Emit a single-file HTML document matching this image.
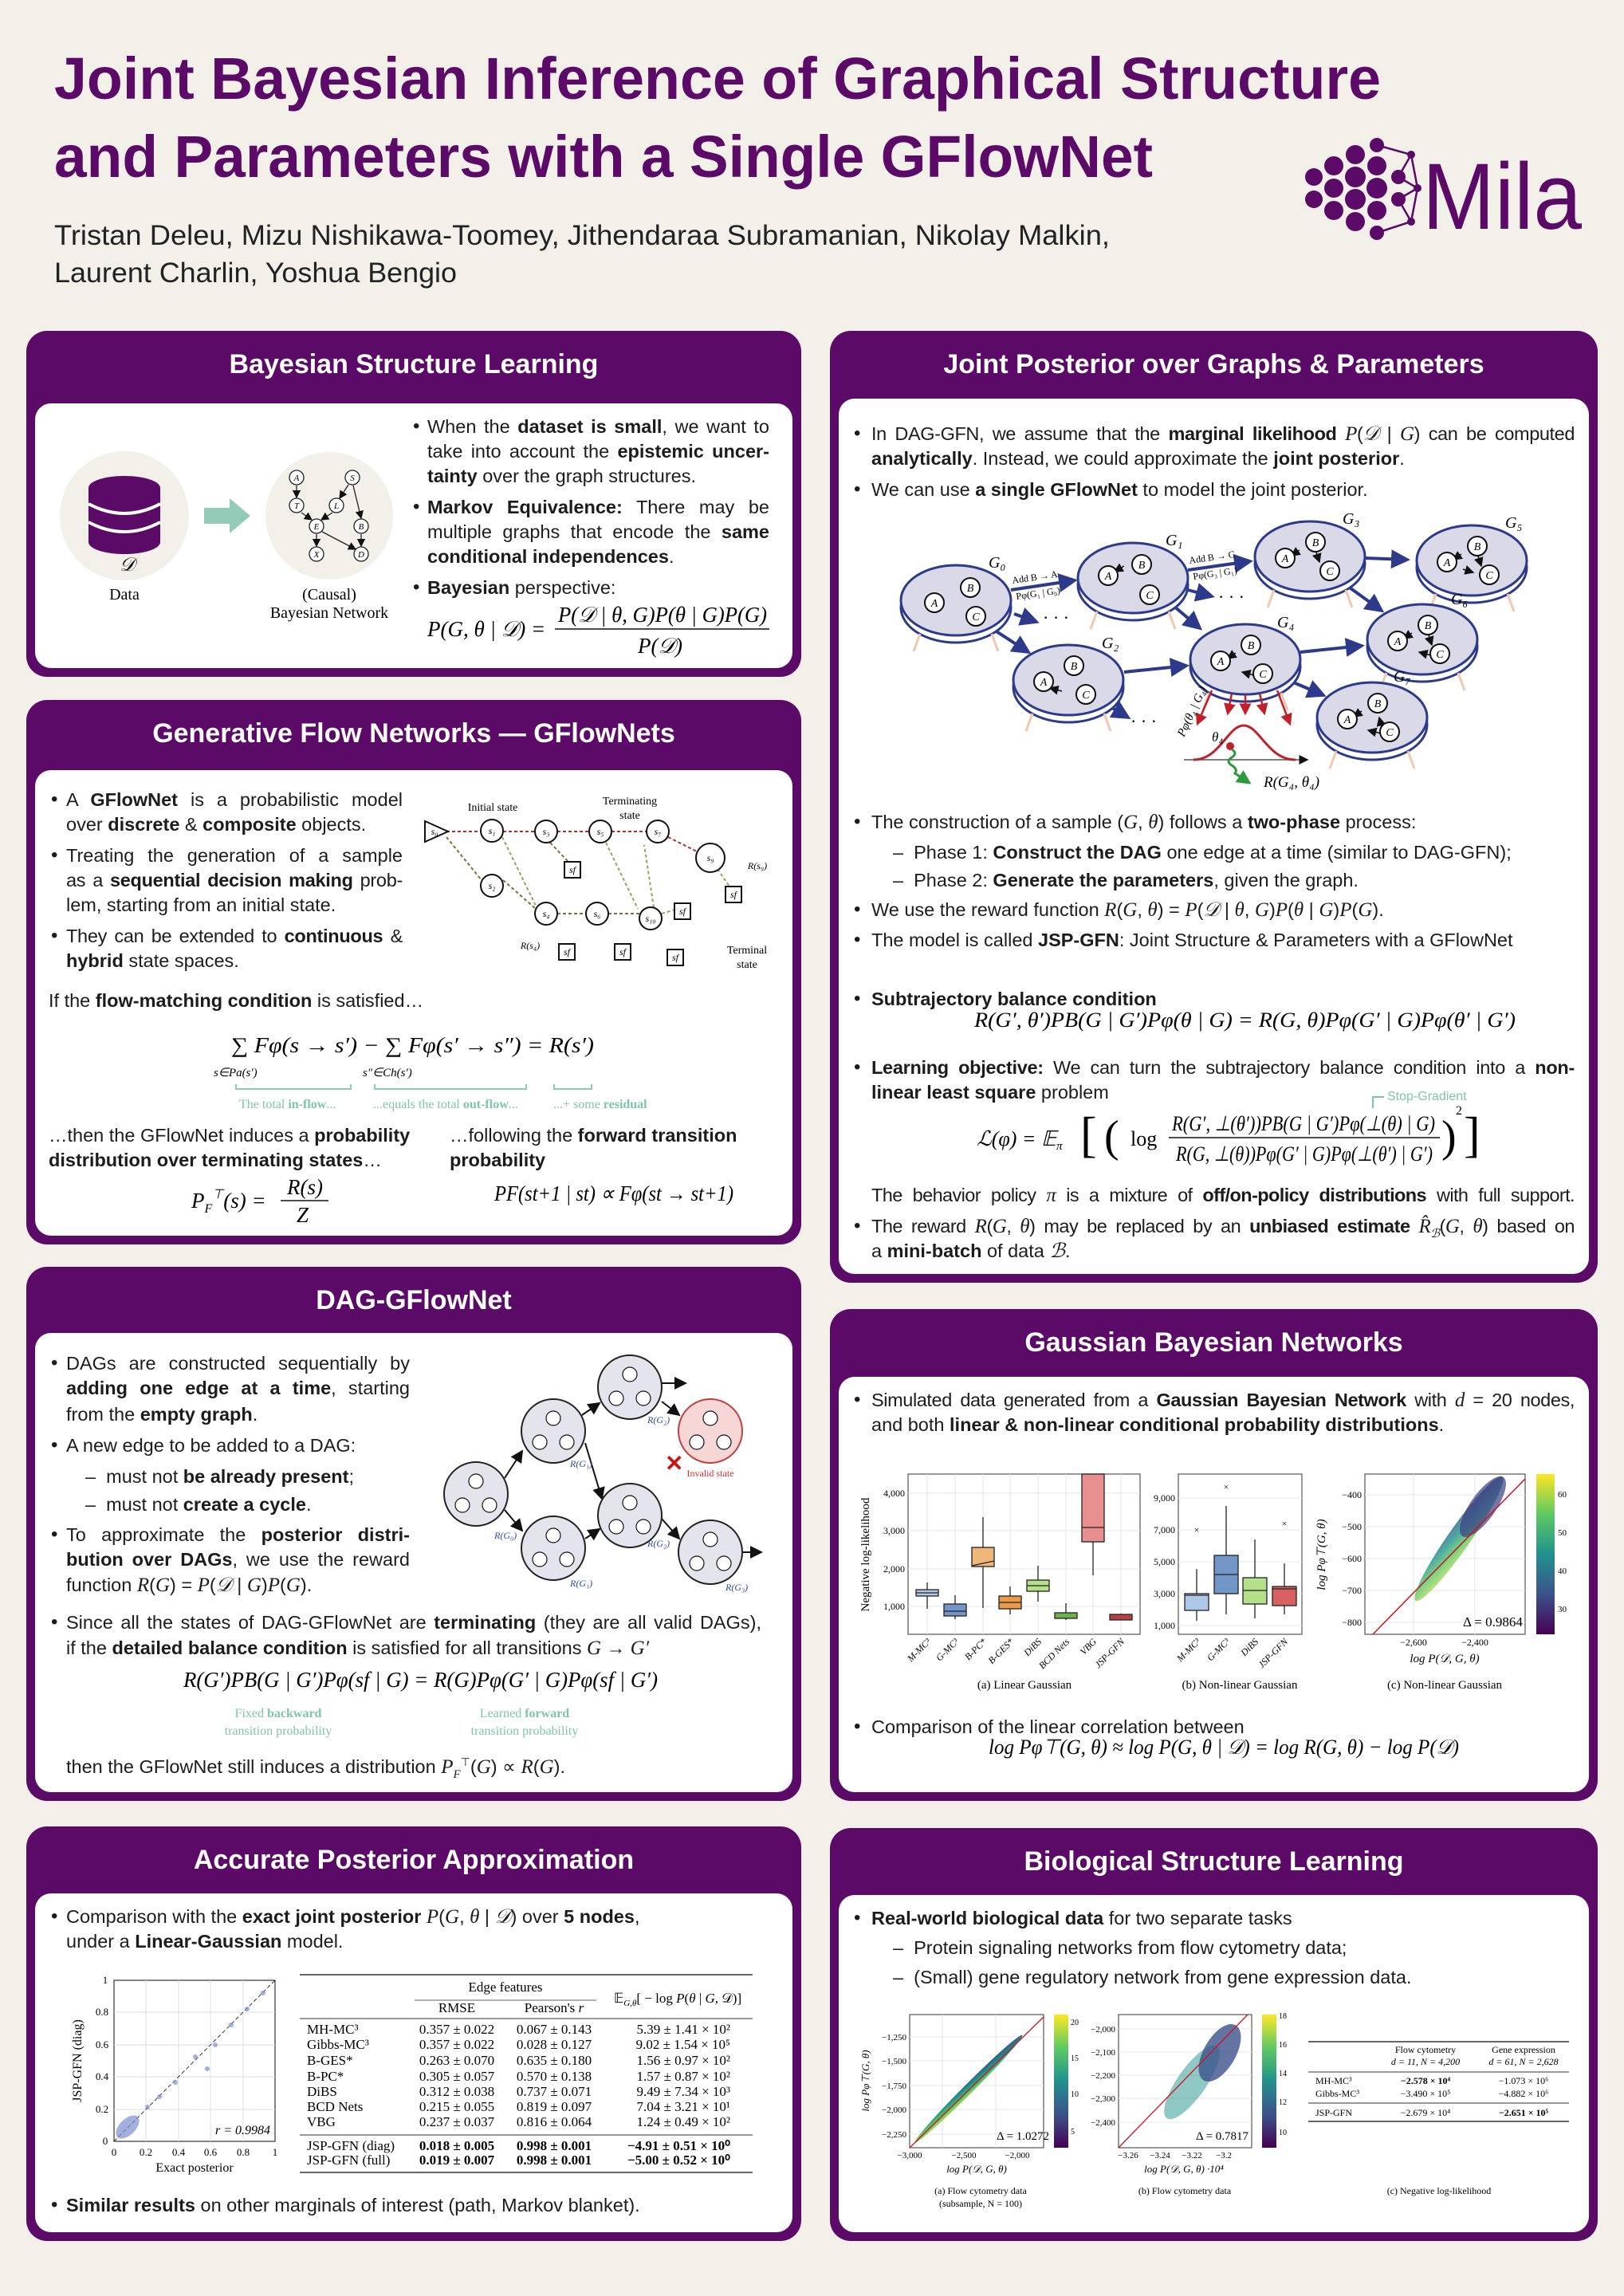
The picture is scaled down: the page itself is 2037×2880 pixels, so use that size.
<!DOCTYPE html>
<html><head><meta charset="utf-8">
<style>
*{margin:0;padding:0;box-sizing:border-box}
body{width:2037px;height:2880px;background:#f3f0ea;position:relative;overflow:hidden;font-family:"Liberation Sans",sans-serif;color:#1c1c1c}
.p{position:absolute;background:#5c0a67;border-radius:26px}
.p .h{position:absolute;left:0;right:0;top:20px;text-align:center;color:#fff;font-weight:bold;font-size:34px;line-height:44px}
.p .w{position:absolute;left:11px;right:11px;bottom:11px;background:#fff;border-radius:20px}
.l{position:absolute;white-space:nowrap;font-size:23.5px;line-height:30px}
.j{text-align:justify;text-align-last:justify;white-space:nowrap}
.m{font-family:"Liberation Serif",serif;font-style:italic;font-size:25px}
.u{position:absolute;font-size:24px;line-height:30px}
svg text{font-family:"Liberation Serif",serif}
</style></head><body>

<svg style="position:absolute;left:0;top:0" width="2037" height="400">
<text x="68" y="124" font-weight="bold" font-size="74" fill="#5c0a67" textLength="1664" lengthAdjust="spacingAndGlyphs" style="font-family:'Liberation Sans'">Joint Bayesian Inference of Graphical Structure</text>
<text x="68" y="222" font-weight="bold" font-size="74" fill="#5c0a67" textLength="1378" lengthAdjust="spacingAndGlyphs" style="font-family:'Liberation Sans'">and Parameters with a Single GFlowNet</text>
<text x="68" y="307" font-size="35" fill="#222" textLength="1324" lengthAdjust="spacingAndGlyphs" style="font-family:'Liberation Sans'">Tristan Deleu, Mizu Nishikawa-Toomey, Jithendaraa Subramanian, Nikolay Malkin,</text>
<text x="68" y="354" font-size="35" fill="#222" textLength="505" lengthAdjust="spacingAndGlyphs" style="font-family:'Liberation Sans'">Laurent Charlin, Yoshua Bengio</text>
<g fill="#5c0a67">
<circle cx="1648" cy="222" r="11"/><circle cx="1648" cy="250" r="11"/>
<circle cx="1673" cy="208" r="12"/><circle cx="1673" cy="236" r="12"/><circle cx="1673" cy="264" r="12"/>
<circle cx="1700" cy="194" r="12"/><circle cx="1700" cy="222" r="13"/><circle cx="1700" cy="250" r="13"/><circle cx="1700" cy="278" r="12"/>
<circle cx="1727" cy="208" r="12"/><circle cx="1727" cy="236" r="13"/><circle cx="1727" cy="264" r="12"/><circle cx="1727" cy="292" r="9"/>
<circle cx="1727" cy="182" r="9"/><circle cx="1754" cy="222" r="9"/><circle cx="1754" cy="250" r="9"/>
<circle cx="1770" cy="194" r="5"/><circle cx="1770" cy="278" r="5"/><circle cx="1778" cy="236" r="5"/>
</g>
<g stroke="#5c0a67" stroke-width="2.5" fill="none"><path d="M1727 182 L1770 194 L1778 236 L1770 278 L1727 292 M1754 222 L1770 194 M1754 250 L1770 278 M1754 222 L1778 236 L1754 250"/></g>
<text x="1784" y="287" font-size="118" fill="#5c0a67" textLength="200" lengthAdjust="spacingAndGlyphs" style="font-family:'Liberation Sans'">Mila</text>
</svg>

<!-- Panels -->
<div class="p" style="left:33px;top:415px;width:972px;height:434px"><div class="h">Bayesian Structure Learning</div><div class="w" style="top:91px"></div></div>
<div class="p" style="left:33px;top:878px;width:972px;height:683px"><div class="h">Generative Flow Networks — GFlowNets</div><div class="w" style="top:88px"></div></div>
<div class="p" style="left:33px;top:1589px;width:972px;height:670px"><div class="h">DAG-GFlowNet</div><div class="w" style="top:83px"></div></div>
<div class="p" style="left:33px;top:2291px;width:972px;height:520px"><div class="h">Accurate Posterior Approximation</div><div class="w" style="top:84px"></div></div>
<div class="p" style="left:1041px;top:415px;width:963px;height:1194px"><div class="h">Joint Posterior over Graphs &amp; Parameters</div><div class="w" style="top:85px"></div></div>
<div class="p" style="left:1041px;top:1642px;width:963px;height:617px"><div class="h">Gaussian Bayesian Networks</div><div class="w" style="top:85px"></div></div>
<div class="p" style="left:1041px;top:2293px;width:963px;height:518px"><div class="h">Biological Structure Learning</div><div class="w" style="top:84px"></div></div>

<!-- BSL text -->
<div class="u" style="left:518px;top:520px">•</div>
<div class="l j" style="left:536px;top:520px;width:429px">When the <b>dataset is small</b>, we want to</div>
<div class="l j" style="left:536px;top:551px;width:429px">take into account the <b>epistemic uncer-</b></div>
<div class="l" style="left:536px;top:582px"><b>tainty</b> over the graph structures.</div>
<div class="u" style="left:518px;top:621px">•</div>
<div class="l j" style="left:536px;top:621px;width:429px"><b>Markov Equivalence:</b> There may be</div>
<div class="l j" style="left:536px;top:652px;width:429px">multiple graphs that encode the <b>same</b></div>
<div class="l" style="left:536px;top:683px"><b>conditional independences</b>.</div>
<div class="u" style="left:518px;top:722px">•</div>
<div class="l" style="left:536px;top:722px"><b>Bayesian</b> perspective:</div>

<!-- GFN text -->
<div class="u" style="left:64px;top:988px">•</div>
<div class="l j" style="left:83px;top:988px;width:422px">A <b>GFlowNet</b> is a probabilistic model</div>
<div class="l" style="left:83px;top:1019px">over <b>discrete</b> &amp; <b>composite</b> objects.</div>
<div class="u" style="left:64px;top:1058px">•</div>
<div class="l j" style="left:83px;top:1058px;width:422px">Treating the generation of a sample</div>
<div class="l j" style="left:83px;top:1089px;width:422px;letter-spacing:-0.3px">as a <b>sequential decision making</b> prob-</div>
<div class="l" style="left:83px;top:1120px">lem, starting from an initial state.</div>
<div class="u" style="left:64px;top:1159px">•</div>
<div class="l j" style="left:83px;top:1159px;width:422px;letter-spacing:-0.3px">They can be extended to <b>continuous</b> &amp;</div>
<div class="l" style="left:83px;top:1190px"><b>hybrid</b> state spaces.</div>
<div class="l" style="left:61px;top:1240px">If the <b>flow-matching condition</b> is satisfied…</div>
<div class="l" style="left:61px;top:1409px">…then the GFlowNet induces a <b>probability</b></div>
<div class="l" style="left:61px;top:1440px"><b>distribution over terminating states</b>…</div>
<div class="l" style="left:564px;top:1409px">…following the <b>forward transition</b></div>
<div class="l" style="left:564px;top:1440px"><b>probability</b></div>

<!-- DAG text -->
<div class="u" style="left:64px;top:1695px">•</div>
<div class="l j" style="left:83px;top:1695px;width:431px">DAGs are constructed sequentially by</div>
<div class="l j" style="left:83px;top:1726px;width:431px"><b>adding one edge at a time</b>, starting</div>
<div class="l" style="left:83px;top:1759px">from the <b>empty graph</b>.</div>
<div class="u" style="left:64px;top:1798px">•</div>
<div class="l" style="left:83px;top:1798px">A new edge to be added to a DAG:</div>
<div class="l" style="left:107px;top:1837px">–&nbsp; must not <b>be already present</b>;</div>
<div class="l" style="left:107px;top:1872px">–&nbsp; must not <b>create a cycle</b>.</div>
<div class="u" style="left:64px;top:1910px">•</div>
<div class="l j" style="left:83px;top:1910px;width:431px">To approximate the <b>posterior distri-</b></div>
<div class="l j" style="left:83px;top:1941px;width:431px"><b>bution over DAGs</b>, we use the reward</div>
<div class="l" style="left:83px;top:1973px">function <span class="m">R</span>(<span class="m">G</span>) = <span class="m">P</span>(<span class="m">𝒟</span> | <span class="m">G</span>)<span class="m">P</span>(<span class="m">G</span>).</div>
<div class="u" style="left:64px;top:2020px">•</div>
<div class="l j" style="left:83px;top:2020px;width:872px">Since all the states of DAG-GFlowNet are <b>terminating</b> (they are all valid DAGs),</div>
<div class="l" style="left:83px;top:2052px">if the <b>detailed balance condition</b> is satisfied for all transitions <span class="m">G</span> → <span class="m">G′</span></div>
<div class="l" style="left:83px;top:2195px">then the GFlowNet still induces a distribution <span class="m">P<sub style="font-size:15px">F</sub></span><sup style="font-size:14px">⊤</sup>(<span class="m">G</span>) ∝ <span class="m">R</span>(<span class="m">G</span>).</div>

<!-- Accurate -->
<div class="u" style="left:64px;top:2389px">•</div>
<div class="l" style="left:83px;top:2389px">Comparison with the <b>exact joint posterior</b> <span class="m">P</span>(<span class="m">G</span>, <span class="m">θ</span> | <span class="m">𝒟</span>) over <b>5 nodes</b>,</div>
<div class="l" style="left:83px;top:2420px">under a <b>Linear-Gaussian</b> model.</div>
<div class="u" style="left:64px;top:2751px">•</div>
<div class="l" style="left:83px;top:2751px"><b>Similar results</b> on other marginals of interest (path, Markov blanket).</div>

<!-- Joint text -->
<div class="u" style="left:1071px;top:529px">•</div>
<div class="l j" style="left:1093px;top:529px;width:882px;letter-spacing:-0.4px">In DAG-GFN, we assume that the <b>marginal likelihood</b> <span class="m">P</span>(<span class="m">𝒟</span> | <span class="m">G</span>) can be computed</div>
<div class="l" style="left:1093px;top:560px"><b>analytically</b>. Instead, we could approximate the <b>joint posterior</b>.</div>
<div class="u" style="left:1071px;top:599px">•</div>
<div class="l" style="left:1093px;top:599px">We can use <b>a single GFlowNet</b> to model the joint posterior.</div>
<div class="u" style="left:1071px;top:1016px">•</div>
<div class="l" style="left:1093px;top:1016px">The construction of a sample (<span class="m">G</span>, <span class="m">θ</span>) follows a <b>two-phase</b> process:</div>
<div class="l" style="left:1120px;top:1054px">–&nbsp; Phase 1: <b>Construct the DAG</b> one edge at a time (similar to DAG-GFN);</div>
<div class="l" style="left:1120px;top:1089px">–&nbsp; Phase 2: <b>Generate the parameters</b>, given the graph.</div>
<div class="u" style="left:1071px;top:1126px">•</div>
<div class="l" style="left:1093px;top:1126px">We use the reward function <span class="m">R</span>(<span class="m">G</span>, <span class="m">θ</span>) = <span class="m">P</span>(<span class="m">𝒟</span> | <span class="m">θ</span>, <span class="m">G</span>)<span class="m">P</span>(<span class="m">θ</span> | <span class="m">G</span>)<span class="m">P</span>(<span class="m">G</span>).</div>
<div class="u" style="left:1071px;top:1164px">•</div>
<div class="l" style="left:1093px;top:1164px">The model is called <b>JSP-GFN</b>: Joint Structure &amp; Parameters with a GFlowNet</div>
<div class="u" style="left:1071px;top:1238px">•</div>
<div class="l" style="left:1093px;top:1238px"><b>Subtrajectory balance condition</b></div>
<div class="u" style="left:1071px;top:1324px">•</div>
<div class="l j" style="left:1093px;top:1324px;width:882px;letter-spacing:-0.3px"><b>Learning objective:</b> We can turn the subtrajectory balance condition into a <b>non-</b></div>
<div class="l" style="left:1093px;top:1355px"><b>linear least square</b> problem</div>
<div class="l j" style="left:1093px;top:1484px;width:882px;letter-spacing:-0.6px">The behavior policy <span class="m">π</span> is a mixture of <b>off/on-policy distributions</b> with full support.</div>
<div class="u" style="left:1071px;top:1523px">•</div>
<div class="l j" style="left:1093px;top:1523px;width:882px;letter-spacing:-0.5px">The reward <span class="m">R</span>(<span class="m">G</span>, <span class="m">θ</span>) may be replaced by an <b>unbiased estimate</b> <span class="m">R̂<sub style="font-size:15px">ℬ</sub></span>(<span class="m">G</span>, <span class="m">θ</span>) based on</div>
<div class="l" style="left:1093px;top:1554px">a <b>mini-batch</b> of data <span class="m">ℬ</span>.</div>

<!-- Gaussian text -->
<div class="u" style="left:1071px;top:1741px">•</div>
<div class="l j" style="left:1093px;top:1741px;width:882px;letter-spacing:-0.4px">Simulated data generated from a <b>Gaussian Bayesian Network</b> with <span class="m">d</span> = 20 nodes,</div>
<div class="l" style="left:1093px;top:1772px">and both <b>linear &amp; non-linear conditional probability distributions</b>.</div>
<div class="u" style="left:1071px;top:2151px">•</div>
<div class="l" style="left:1093px;top:2151px">Comparison of the linear correlation between</div>

<!-- Bio text -->
<div class="u" style="left:1071px;top:2391px">•</div>
<div class="l" style="left:1093px;top:2391px"><b>Real-world biological data</b> for two separate tasks</div>
<div class="l" style="left:1120px;top:2428px">–&nbsp; Protein signaling networks from flow cytometry data;</div>
<div class="l" style="left:1120px;top:2465px">–&nbsp; (Small) gene regulatory network from gene expression data.</div>

<!-- Overlay figures/formulas -->
<svg style="position:absolute;left:0;top:0" width="2037" height="2880">
<defs>
<marker id="ak" markerWidth="8" markerHeight="8" refX="7" refY="4" orient="auto"><path d="M0,0 L8,4 L0,8z" fill="#111"/></marker>
<marker id="ab" markerWidth="6" markerHeight="6" refX="5" refY="3" orient="auto"><path d="M0,0 L6,3 L0,6z" fill="#2d3a8c"/></marker>
<marker id="ar" markerWidth="6" markerHeight="6" refX="5" refY="3" orient="auto"><path d="M0,0 L6,3 L0,6z" fill="#c0202a"/></marker>
<marker id="ag" markerWidth="6" markerHeight="6" refX="5" refY="3" orient="auto"><path d="M0,0 L6,3 L0,6z" fill="#2a9a3a"/></marker>
<linearGradient id="vir" x1="0" y1="1" x2="0" y2="0"><stop offset="0" stop-color="#440154"/><stop offset=".25" stop-color="#3b528b"/><stop offset=".5" stop-color="#21918c"/><stop offset=".75" stop-color="#5ec962"/><stop offset="1" stop-color="#fde725"/></linearGradient>
<linearGradient id="scat" x1="0" y1="1" x2="1" y2="0"><stop offset="0" stop-color="#e4e05a"/><stop offset=".35" stop-color="#5ec962"/><stop offset=".6" stop-color="#21918c"/><stop offset="1" stop-color="#3b3a80"/></linearGradient>
<g id="disk"><ellipse cx="0" cy="9" rx="69" ry="44" fill="#fff" stroke="#2d3a8c" stroke-width="3"/><ellipse cx="0" cy="0" rx="69" ry="44" fill="#d9d9e8" stroke="#2d3a8c" stroke-width="3"/>
<path d="M-45 42 l-8 22 M45 42 l8 22" stroke="#f0c8b0" stroke-width="3"/></g>
<g id="dk"><circle r="40" fill="#e4e4ec" stroke="#222" stroke-width="2"/></g>
</defs>

<!-- BSL figure -->
<circle cx="156" cy="647" r="81" fill="#f3f0ea"/>
<g fill="#5c0a67"><rect x="111" y="612" width="90" height="68"/><ellipse cx="156" cy="612" rx="45" ry="15"/><ellipse cx="156" cy="680" rx="45" ry="15"/></g>
<path d="M111 632 Q156 656 201 632 M111 655 Q156 679 201 655" stroke="#fff" stroke-width="4" fill="none"/>
<text x="150" y="716" font-size="24" font-style="italic">𝒟</text>
<text x="156" y="752" font-size="20" text-anchor="middle">Data</text>
<path d="M256 637 H288 V625 L314 647 L288 669 V657 H256z" fill="#93cbb8"/>
<circle cx="413" cy="647" r="80" fill="#f3f0ea"/>
<g stroke="#222" stroke-width="1.3" fill="none" marker-end="url(#ak)">
<line x1="372" y1="609" x2="372" y2="624"/><line x1="437" y1="608" x2="426" y2="625"/><line x1="443" y1="609" x2="453" y2="650"/>
<line x1="378" y1="643" x2="391" y2="652"/><line x1="417" y1="643" x2="403" y2="652"/><line x1="397" y1="670" x2="397" y2="685"/><line x1="404" y1="667" x2="446" y2="689"/><line x1="453" y1="670" x2="453" y2="685"/></g>
<g fill="#fff" stroke="#222" stroke-width="1.3"><circle cx="372" cy="599" r="9"/><circle cx="442" cy="599" r="9"/><circle cx="372" cy="634" r="9"/><circle cx="422" cy="634" r="9"/><circle cx="397" cy="660" r="9"/><circle cx="453" cy="660" r="9"/><circle cx="397" cy="695" r="9"/><circle cx="453" cy="695" r="9"/></g>
<g font-size="11" font-style="italic" text-anchor="middle"><text x="372" y="603">A</text><text x="442" y="603">S</text><text x="372" y="638">T</text><text x="422" y="638">L</text><text x="397" y="664">E</text><text x="453" y="664">B</text><text x="397" y="699">X</text><text x="453" y="699">D</text></g>
<text x="413" y="752" font-size="20" text-anchor="middle">(Causal)</text>
<text x="413" y="775" font-size="20" text-anchor="middle">Bayesian Network</text>
<g font-size="27" font-style="italic"><text x="536" y="798">P(G, θ | 𝒟) =</text>
<text x="700" y="780" textLength="262" lengthAdjust="spacingAndGlyphs">P(𝒟 | θ, G)P(θ | G)P(G)</text>
<line x1="696" y1="789" x2="965" y2="789" stroke="#111" stroke-width="1.5"/>
<text x="800" y="819">P(𝒟)</text></g>

<!-- GFN diagram -->
<g stroke-width="2" fill="none" stroke-dasharray="4 3">
<path d="M560 1043 H603 M631 1043 H671 M699 1043 H739 M767 1043 H811 M838 1050 L878 1070" stroke="#b03030"/>
<path d="M560 1050 L604 1104 M631 1104 L672 1140 M699 1146 H735 M763 1146 H802 M690 1057 L712 1080" stroke="#8a6a3a"/>
<path d="M630 1050 L672 1136 M760 1057 L800 1140 M830 1146 L850 1140 M900 1090 L915 1112 M820 1138 L808 1060" stroke="#9aa060"/>
</g>
<path d="M533 1030 L562 1043 L533 1056z" fill="#fff" stroke="#111" stroke-width="2"/>
<g fill="#fff" stroke="#111" stroke-width="2"><circle cx="617" cy="1042" r="14"/><circle cx="685" cy="1043" r="14"/><circle cx="753" cy="1043" r="14"/><circle cx="825" cy="1043" r="14"/><circle cx="891" cy="1076" r="14"/><circle cx="891" cy="1076" r="18"/><circle cx="617" cy="1111" r="14"/><circle cx="685" cy="1146" r="14"/><circle cx="749" cy="1146" r="14"/><circle cx="816" cy="1152" r="14"/>
<rect x="708" y="1081" width="20" height="20"/><rect x="910" y="1112" width="20" height="20"/><rect x="846" y="1133" width="20" height="20"/><rect x="701" y="1184" width="20" height="20"/><rect x="771" y="1184" width="20" height="20"/><rect x="837" y="1191" width="20" height="20"/></g>
<g font-size="12" font-style="italic" text-anchor="middle"><text x="545" y="1047">s₀</text><text x="617" y="1046">s₁</text><text x="685" y="1047">s₃</text><text x="753" y="1047">s₅</text><text x="825" y="1047">s₇</text><text x="891" y="1080">s₉</text><text x="617" y="1115">s₂</text><text x="685" y="1150">s₄</text><text x="749" y="1150">s₆</text><text x="816" y="1156">s₁₀</text>
<text x="718" y="1095">sf</text><text x="920" y="1126">sf</text><text x="856" y="1147">sf</text><text x="711" y="1198">sf</text><text x="781" y="1198">sf</text><text x="847" y="1205">sf</text>
<text x="950" y="1090">R(s₉)</text><text x="665" y="1190">R(s₄)</text></g>
<g font-size="14" text-anchor="middle"><text x="618" y="1017">Initial state</text><text x="790" y="1009">Terminating</text><text x="790" y="1027">state</text><text x="937" y="1196">Terminal</text><text x="937" y="1214">state</text></g>

<!-- GFN formulas -->
<g font-size="27" font-style="italic"><text x="290" y="1320" textLength="455" lengthAdjust="spacingAndGlyphs">∑ Fφ(s → s′) − ∑ Fφ(s′ → s″) = R(s′)</text></g>
<g font-size="15" font-style="italic"><text x="268" y="1350">s∈Pa(s′)</text><text x="455" y="1350">s″∈Ch(s′)</text></g>
<g stroke="#8ccbb5" stroke-width="2" fill="none"><path d="M296 1360 v6 H440 v-6 M470 1360 v6 H660 v-6 M695 1360 v6 H742 v-6"/></g>
<g font-size="16" fill="#7ec4ab" style="font-family:'Liberation Sans'"><text x="300" y="1390">The total <tspan font-weight="bold">in-flow</tspan>...</text><text x="468" y="1390">...equals the total <tspan font-weight="bold">out-flow</tspan>...</text><text x="694" y="1390">...+ some <tspan font-weight="bold">residual</tspan></text></g>
<g font-size="27" font-style="italic"><text x="240" y="1515">P<tspan font-size="16" dy="6">F</tspan><tspan font-size="16" dy="-18">⊤</tspan><tspan dy="12">(s) =</tspan></text>
<text x="360" y="1498">R(s)</text><line x1="352" y1="1506" x2="412" y2="1506" stroke="#111" stroke-width="1.5"/><text x="372" y="1533">Z</text>
<text x="620" y="1506" textLength="300" lengthAdjust="spacingAndGlyphs">PF(st+1 | st) ∝ Fφ(st → st+1)</text></g>

<!-- DAG diagram -->
<g stroke="#111" stroke-width="2" marker-end="url(#ak)"><line x1="633" y1="1854" x2="655" y2="1820"/><line x1="633" y1="1894" x2="655" y2="1920"/><line x1="730" y1="1775" x2="752" y2="1760"/><line x1="734" y1="1930" x2="752" y2="1918"/><line x1="734" y1="1810" x2="755" y2="1880"/><line x1="830" y1="1905" x2="852" y2="1930"/><line x1="830" y1="1758" x2="852" y2="1775"/><line x1="830" y1="1735" x2="860" y2="1735"/><line x1="930" y1="1947" x2="955" y2="1947"/></g>
<use href="#dk" x="597" y="1874"/><use href="#dk" x="694" y="1795"/><use href="#dk" x="694" y="1942"/><use href="#dk" x="790" y="1740"/><use href="#dk" x="790" y="1901"/><use href="#dk" x="891" y="1947"/>
<circle cx="891" cy="1795" r="40" fill="#f7d6d6" stroke="#c04040" stroke-width="2"/>
<text x="834" y="1845" font-size="28" fill="#d01010" font-weight="bold" style="font-family:'Liberation Sans'">✕</text>
<text x="891" y="1852" font-size="12" fill="#d03030" text-anchor="middle">Invalid state</text>
<g fill="#fff" stroke="#111" stroke-width="1.2">
<circle cx="580" cy="1888" r="9"/><circle cx="614" cy="1888" r="9"/><circle cx="597" cy="1858" r="9"/>
<circle cx="677" cy="1809" r="9"/><circle cx="711" cy="1809" r="9"/><circle cx="694" cy="1779" r="9"/>
<circle cx="677" cy="1956" r="9"/><circle cx="711" cy="1956" r="9"/><circle cx="694" cy="1926" r="9"/>
<circle cx="773" cy="1754" r="9"/><circle cx="807" cy="1754" r="9"/><circle cx="790" cy="1724" r="9"/>
<circle cx="773" cy="1915" r="9"/><circle cx="807" cy="1915" r="9"/><circle cx="790" cy="1885" r="9"/>
<circle cx="874" cy="1809" r="9"/><circle cx="908" cy="1809" r="9"/><circle cx="891" cy="1779" r="9"/>
<circle cx="874" cy="1961" r="9"/><circle cx="908" cy="1961" r="9"/><circle cx="891" cy="1931" r="9"/></g>
<g font-size="12" fill="#2d4aa0" font-style="italic"><text x="620" y="1930">R(G₀)</text><text x="715" y="1840">R(G₁)</text><text x="715" y="1990">R(G₁)</text><text x="812" y="1785">R(G₂)</text><text x="812" y="1940">R(G₂)</text><text x="910" y="1995">R(G₃)</text></g>

<!-- DAG formulas -->
<text x="230" y="2116" font-size="27" font-style="italic" textLength="595" lengthAdjust="spacingAndGlyphs">R(G′)PB(G | G′)Pφ(sf | G) = R(G)Pφ(G′ | G)Pφ(sf | G′)</text>
<g font-size="16" fill="#7ec4ab" text-anchor="middle" style="font-family:'Liberation Sans'"><text x="349" y="2154">Fixed <tspan font-weight="bold">backward</tspan></text><text x="349" y="2176">transition probability</text><text x="658" y="2154">Learned <tspan font-weight="bold">forward</tspan></text><text x="658" y="2176">transition probability</text></g>

<!-- Accurate plot -->
<rect x="143" y="2484" width="202" height="202" fill="none" stroke="#333" stroke-width="1.2"/>
<g stroke="#ddd" stroke-width="1"><line x1="183" y1="2484" x2="183" y2="2686"/><line x1="224" y1="2484" x2="224" y2="2686"/><line x1="264" y1="2484" x2="264" y2="2686"/><line x1="305" y1="2484" x2="305" y2="2686"/><line x1="143" y1="2524" x2="345" y2="2524"/><line x1="143" y1="2565" x2="345" y2="2565"/><line x1="143" y1="2605" x2="345" y2="2605"/><line x1="143" y1="2646" x2="345" y2="2646"/></g>
<line x1="143" y1="2686" x2="345" y2="2484" stroke="#333" stroke-dasharray="5 3"/>
<g fill="#7d8fd0" opacity=".7"><ellipse cx="160" cy="2668" rx="18" ry="10" transform="rotate(-45 160 2668)"/><circle cx="185" cy="2643" r="3"/><circle cx="200" cy="2630" r="3"/><circle cx="220" cy="2612" r="3"/><circle cx="245" cy="2580" r="3"/><circle cx="270" cy="2565" r="3"/><circle cx="290" cy="2540" r="3"/><circle cx="310" cy="2520" r="3"/><circle cx="330" cy="2500" r="3"/><circle cx="260" cy="2595" r="3"/></g>
<text x="270" y="2677" font-size="16" font-style="italic">r = 0.9984</text>
<g font-size="13" text-anchor="middle"><text x="143" y="2704">0</text><text x="183" y="2704">0.2</text><text x="224" y="2704">0.4</text><text x="264" y="2704">0.6</text><text x="305" y="2704">0.8</text><text x="345" y="2704">1</text>
<text x="132" y="2690">0</text><text x="128" y="2650">0.2</text><text x="128" y="2609">0.4</text><text x="128" y="2569">0.6</text><text x="128" y="2528">0.8</text><text x="132" y="2488">1</text></g>
<text x="244" y="2724" font-size="16" text-anchor="middle">Exact posterior</text>
<text x="102" y="2585" font-size="16" text-anchor="middle" transform="rotate(-90 102 2585)">JSP-GFN (diag)</text>

<!-- Accurate table -->
<g stroke="#333"><line x1="376" y1="2477" x2="944" y2="2477" stroke-width="1.6"/><line x1="520" y1="2509" x2="748" y2="2509" stroke-width="0.8"/><line x1="376" y1="2532" x2="944" y2="2532"/><line x1="376" y1="2678" x2="944" y2="2678"/><line x1="376" y1="2725" x2="944" y2="2725" stroke-width="1.6"/></g>
<g font-size="17"><text x="634" y="2498" text-anchor="middle">Edge features</text><text x="573" y="2524" text-anchor="middle">RMSE</text><text x="695" y="2524" text-anchor="middle">Pearson's <tspan font-style="italic">r</tspan></text><text x="850" y="2512" text-anchor="middle">𝔼<tspan font-size="11" font-style="italic" dy="4">G,θ</tspan><tspan dy="-4">[ − log <tspan font-style="italic">P</tspan>(<tspan font-style="italic">θ</tspan> | <tspan font-style="italic">G</tspan>, 𝒟)]</tspan></text>
<g><text x="385" y="2551">MH-MC³</text><text x="385" y="2570">Gibbs-MC³</text><text x="385" y="2590">B-GES*</text><text x="385" y="2610">B-PC*</text><text x="385" y="2629">DiBS</text><text x="385" y="2648">BCD Nets</text><text x="385" y="2667">VBG</text><text x="385" y="2697">JSP-GFN (diag)</text><text x="385" y="2715">JSP-GFN (full)</text></g>
<g text-anchor="middle"><text x="573" y="2551">0.357 ± 0.022</text><text x="573" y="2570">0.357 ± 0.022</text><text x="573" y="2590">0.263 ± 0.070</text><text x="573" y="2610">0.305 ± 0.057</text><text x="573" y="2629">0.312 ± 0.038</text><text x="573" y="2648">0.215 ± 0.055</text><text x="573" y="2667">0.237 ± 0.037</text><text x="573" y="2697" font-weight="bold">0.018 ± 0.005</text><text x="573" y="2715" font-weight="bold">0.019 ± 0.007</text>
<text x="695" y="2551">0.067 ± 0.143</text><text x="695" y="2570">0.028 ± 0.127</text><text x="695" y="2590">0.635 ± 0.180</text><text x="695" y="2610">0.570 ± 0.138</text><text x="695" y="2629">0.737 ± 0.071</text><text x="695" y="2648">0.819 ± 0.097</text><text x="695" y="2667">0.816 ± 0.064</text><text x="695" y="2697" font-weight="bold">0.998 ± 0.001</text><text x="695" y="2715" font-weight="bold">0.998 ± 0.001</text></g>
<g text-anchor="end"><text x="916" y="2551">5.39 ± 1.41 × 10²</text><text x="916" y="2570">9.02 ± 1.54 × 10⁵</text><text x="916" y="2590">1.56 ± 0.97 × 10²</text><text x="916" y="2610">1.57 ± 0.87 × 10²</text><text x="916" y="2629">9.49 ± 7.34 × 10³</text><text x="916" y="2648">7.04 ± 3.21 × 10¹</text><text x="916" y="2667">1.24 ± 0.49 × 10²</text><text x="916" y="2697" font-weight="bold">−4.91 ± 0.51 × 10⁰</text><text x="916" y="2715" font-weight="bold">−5.00 ± 0.52 × 10⁰</text></g></g>

<!-- Joint diagram -->
<g stroke="#2d3a8c" stroke-width="4" marker-end="url(#ab)" fill="none">
<line x1="1268" y1="740" x2="1348" y2="728"/><line x1="1242" y1="787" x2="1290" y2="818"/><line x1="1272" y1="770" x2="1300" y2="780"/>
<line x1="1490" y1="715" x2="1568" y2="704"/><line x1="1472" y1="760" x2="1505" y2="788"/><line x1="1490" y1="740" x2="1520" y2="748"/>
<line x1="1712" y1="700" x2="1765" y2="702"/><line x1="1690" y1="735" x2="1733" y2="766"/>
<line x1="1410" y1="843" x2="1488" y2="835"/><line x1="1631" y1="818" x2="1708" y2="810"/><line x1="1620" y1="855" x2="1660" y2="872"/><line x1="1390" y1="885" x2="1415" y2="900"/></g>
<g font-size="22"><text x="1308" y="782">· · ·</text><text x="1528" y="756">· · ·</text><text x="1418" y="912">· · ·</text></g>
<use href="#disk" x="1199" y="753"/><use href="#disk" x="1421" y="725"/><use href="#disk" x="1340" y="853"/><use href="#disk" x="1643" y="698"/><use href="#disk" x="1562" y="827"/><use href="#disk" x="1846" y="703"/><use href="#disk" x="1784" y="802"/><use href="#disk" x="1721" y="900"/>
<g stroke="#111" stroke-width="1.5" marker-end="url(#ak)">
<line x1="1410" y1="710" x2="1398" y2="717"/>
<line x1="1630" y1="690" x2="1620" y2="697"/><line x1="1650" y1="690" x2="1655" y2="705"/>
<line x1="1833" y1="695" x2="1823" y2="702"/><line x1="1853" y1="695" x2="1858" y2="710"/><line x1="1835" y1="714" x2="1848" y2="718"/>
<line x1="1771" y1="794" x2="1761" y2="801"/><line x1="1791" y1="794" x2="1796" y2="809"/><line x1="1795" y1="822" x2="1780" y2="818"/>
<line x1="1550" y1="819" x2="1540" y2="826"/><line x1="1573" y1="847" x2="1558" y2="843"/>
<line x1="1332" y1="867" x2="1317" y2="863"/>
<line x1="1708" y1="892" x2="1698" y2="899"/><line x1="1732" y1="920" x2="1716" y2="916"/><line x1="1733" y1="912" x2="1730" y2="900"/></g>
<g fill="#fff" stroke="#111" stroke-width="2">
<circle cx="1172" cy="756" r="12"/><circle cx="1217" cy="737" r="12"/><circle cx="1224" cy="773" r="12"/>
<circle cx="1390" cy="722" r="12"/><circle cx="1432" cy="708" r="12"/><circle cx="1442" cy="746" r="12"/>
<circle cx="1612" cy="700" r="12"/><circle cx="1650" cy="680" r="12"/><circle cx="1668" cy="716" r="12"/>
<circle cx="1815" cy="705" r="12"/><circle cx="1853" cy="685" r="12"/><circle cx="1868" cy="721" r="12"/>
<circle cx="1753" cy="804" r="12"/><circle cx="1791" cy="784" r="12"/><circle cx="1806" cy="820" r="12"/>
<circle cx="1309" cy="855" r="12"/><circle cx="1347" cy="835" r="12"/><circle cx="1362" cy="871" r="12"/>
<circle cx="1531" cy="829" r="12"/><circle cx="1569" cy="809" r="12"/><circle cx="1584" cy="845" r="12"/>
<circle cx="1690" cy="902" r="12"/><circle cx="1728" cy="882" r="12"/><circle cx="1743" cy="918" r="12"/></g>
<g font-size="14" font-style="italic" text-anchor="middle">
<text x="1172" y="761">A</text><text x="1217" y="742">B</text><text x="1224" y="778">C</text>
<text x="1390" y="727">A</text><text x="1432" y="713">B</text><text x="1442" y="751">C</text>
<text x="1612" y="705">A</text><text x="1650" y="685">B</text><text x="1668" y="721">C</text>
<text x="1815" y="710">A</text><text x="1853" y="690">B</text><text x="1868" y="726">C</text>
<text x="1753" y="809">A</text><text x="1791" y="789">B</text><text x="1806" y="825">C</text>
<text x="1309" y="860">A</text><text x="1347" y="840">B</text><text x="1362" y="876">C</text>
<text x="1531" y="834">A</text><text x="1569" y="814">B</text><text x="1584" y="850">C</text>
<text x="1690" y="907">A</text><text x="1728" y="887">B</text><text x="1743" y="923">C</text></g>
<g font-size="20" font-style="italic"><text x="1240" y="712">G₀</text><text x="1462" y="684">G₁</text><text x="1382" y="813">G₂</text><text x="1684" y="657">G₃</text><text x="1602" y="787">G₄</text><text x="1888" y="662">G₅</text><text x="1820" y="758">G₆</text><text x="1748" y="855">G₇</text></g>
<g font-size="12"><text x="1270" y="732" transform="rotate(-8 1270 732)">Add B → A</text><text x="1275" y="752" transform="rotate(-8 1275 752)">Pφ(G₁ | G₀)</text><text x="1492" y="707" transform="rotate(-8 1492 707)">Add B → C</text><text x="1497" y="727" transform="rotate(-8 1497 727)">Pφ(G₃ | G₁)</text></g>
<g stroke="#c0202a" stroke-width="2.5" marker-end="url(#ar)"><line x1="1520" y1="866" x2="1502" y2="908"/><line x1="1545" y1="870" x2="1540" y2="895"/><line x1="1562" y1="872" x2="1562" y2="895"/><line x1="1580" y1="870" x2="1586" y2="895"/><line x1="1602" y1="866" x2="1618" y2="908"/></g>
<text x="1485" y="925" font-size="15" font-style="italic" transform="rotate(-65 1485 925)">Pφ(θ₄ | G₄)</text>
<line x1="1485" y1="953" x2="1640" y2="953" stroke="#555" stroke-width="1.5" marker-end="url(#ak)"/>
<path d="M1497 953 C1530 953 1540 910 1560 910 C1580 910 1590 953 1625 953" stroke="#c0202a" stroke-width="3" fill="none"/>
<circle cx="1543" cy="936" r="5" fill="#c0202a"/>
<path d="M1545 940 q8 5 0 10 q-8 5 0 10 q8 5 4 10 l18 12" stroke="#2a9a3a" stroke-width="3" fill="none" marker-end="url(#ag)"/>
<text x="1520" y="930" font-size="17" font-style="italic">θ₄</text>
<text x="1585" y="987" font-size="19" font-style="italic">R(G₄, θ₄)</text>

<!-- Joint formulas -->
<text x="1222" y="1288" font-size="26" font-style="italic" textLength="679" lengthAdjust="spacingAndGlyphs">R(G′, θ′)PB(G | G′)Pφ(θ | G) = R(G, θ)Pφ(G′ | G)Pφ(θ′ | G′)</text>
<g font-size="26" font-style="italic"><text x="1225" y="1437">ℒ(φ) = 𝔼<tspan font-size="15" dy="5">π</tspan></text>
<text x="1355" y="1444" font-size="62" font-style="normal">[</text><text x="1385" y="1444" font-size="56" font-style="normal">(</text>
<text x="1418" y="1437" font-style="normal">log</text>
<text x="1470" y="1418" textLength="330" lengthAdjust="spacingAndGlyphs">R(G′, ⊥(θ′))PB(G | G′)Pφ(⊥(θ) | G)</text>
<line x1="1466" y1="1427" x2="1806" y2="1427" stroke="#111" stroke-width="1.5"/>
<text x="1475" y="1456" textLength="322" lengthAdjust="spacingAndGlyphs">R(G, ⊥(θ))Pφ(G′ | G)Pφ(⊥(θ′) | G′)</text>
<text x="1808" y="1444" font-size="56" font-style="normal">)</text><text x="1826" y="1398" font-size="16" font-style="normal">2</text><text x="1836" y="1444" font-size="62" font-style="normal">]</text></g>
<path d="M1722 1390 v-14 h14" stroke="#7ec4ab" stroke-width="2" fill="none"/>
<text x="1740" y="1380" font-size="16" fill="#7ec4ab" style="font-family:'Liberation Sans'">Stop-Gradient</text>

<!-- Gaussian plots -->
<rect x="1139" y="1849" width="291" height="201" fill="#fff" stroke="#555" stroke-width="1.2"/>
<g stroke="#e4e4e4"><line x1="1139" y1="1873" x2="1430" y2="1873"/><line x1="1139" y1="1920" x2="1430" y2="1920"/><line x1="1139" y1="1968" x2="1430" y2="1968"/><line x1="1139" y1="2015" x2="1430" y2="2015"/>
<line x1="1163" y1="1849" x2="1163" y2="2050"/><line x1="1198" y1="1849" x2="1198" y2="2050"/><line x1="1233" y1="1849" x2="1233" y2="2050"/><line x1="1267" y1="1849" x2="1267" y2="2050"/><line x1="1302" y1="1849" x2="1302" y2="2050"/><line x1="1337" y1="1849" x2="1337" y2="2050"/><line x1="1371" y1="1849" x2="1371" y2="2050"/><line x1="1406" y1="1849" x2="1406" y2="2050"/></g>
<g stroke="#222" stroke-width="1.3">
<line x1="1163" y1="2018" x2="1163" y2="1985"/><rect x="1149" y="1994" width="28" height="8" fill="#aec7e8"/><line x1="1149" y1="1998" x2="1177" y2="1998"/>
<line x1="1198" y1="2031" x2="1198" y2="2001"/><rect x="1184" y="2012" width="28" height="15" fill="#7396c8"/><line x1="1184" y1="2021" x2="1212" y2="2021"/>
<line x1="1233" y1="2017" x2="1233" y2="1903"/><rect x="1219" y="1941" width="28" height="24" fill="#f0b878"/><line x1="1219" y1="1964" x2="1247" y2="1958"/>
<line x1="1267" y1="2025" x2="1267" y2="1990"/><rect x="1253" y="2002" width="28" height="16" fill="#eb9a48"/><line x1="1253" y1="2010" x2="1281" y2="2010"/>
<line x1="1302" y1="2009" x2="1302" y2="1964"/><rect x="1288" y="1982" width="28" height="14" fill="#b4e08a"/><line x1="1288" y1="1989" x2="1316" y2="1989"/>
<line x1="1337" y1="2032" x2="1337" y2="2011"/><rect x="1323" y="2023" width="28" height="7" fill="#6ab04c"/>
<line x1="1371" y1="1976" x2="1371" y2="1934"/><rect x="1357" y="1849" width="28" height="85" fill="#e89090"/><line x1="1357" y1="1916" x2="1385" y2="1916"/>
<line x1="1406" y1="2024" x2="1406" y2="2032"/><rect x="1392" y="2025" width="28" height="7" fill="#b84040"/></g>
<g font-size="12" text-anchor="end"><text x="1135" y="1877">4,000</text><text x="1135" y="1924">3,000</text><text x="1135" y="1972">2,000</text><text x="1135" y="2019">1,000</text></g>
<text x="1090" y="1950" font-size="15" text-anchor="middle" transform="rotate(-90 1090 1950)">Negative log-likelihood</text>
<g font-size="12" font-style="italic" text-anchor="end"><text transform="translate(1168 2060) rotate(-45)">M-MC³</text><text transform="translate(1203 2060) rotate(-45)">G-MC³</text><text transform="translate(1238 2060) rotate(-45)">B-PC*</text><text transform="translate(1272 2060) rotate(-45)">B-GES*</text><text transform="translate(1307 2060) rotate(-45)">DiBS</text><text transform="translate(1342 2060) rotate(-45)">BCD Nets</text><text transform="translate(1376 2060) rotate(-45)">VBG</text><text transform="translate(1411 2060) rotate(-45)">JSP-GFN</text></g>
<text x="1285" y="2118" font-size="15" text-anchor="middle">(a) Linear Gaussian</text>

<rect x="1478" y="1849" width="155" height="201" fill="#fff" stroke="#555" stroke-width="1.2"/>
<g stroke="#e4e4e4"><line x1="1478" y1="1879" x2="1633" y2="1879"/><line x1="1478" y1="1919" x2="1633" y2="1919"/><line x1="1478" y1="1959" x2="1633" y2="1959"/><line x1="1478" y1="1999" x2="1633" y2="1999"/><line x1="1478" y1="2039" x2="1633" y2="2039"/></g>
<g stroke="#222" stroke-width="1.3">
<line x1="1501" y1="2033" x2="1501" y2="1968"/><rect x="1486" y="1999" width="30" height="21" fill="#aec7e8"/><line x1="1486" y1="2001" x2="1516" y2="2001"/>
<line x1="1538" y1="2025" x2="1538" y2="1889"/><rect x="1523" y="1951" width="30" height="48" fill="#7396c8"/><line x1="1523" y1="1975" x2="1553" y2="1975"/>
<line x1="1574" y1="2030" x2="1574" y2="1931"/><rect x="1559" y="1979" width="30" height="33" fill="#b4e08a"/><line x1="1559" y1="1995" x2="1589" y2="1995"/>
<line x1="1611" y1="2025" x2="1611" y2="1961"/><rect x="1596" y="1990" width="30" height="24" fill="#d86060"/><line x1="1596" y1="1993" x2="1626" y2="1993"/></g>
<g font-size="12" text-anchor="middle"><text x="1501" y="1923">×</text><text x="1538" y="1869">×</text><text x="1611" y="1915">×</text></g>
<g font-size="12" text-anchor="end"><text x="1474" y="1883">9,000</text><text x="1474" y="1923">7,000</text><text x="1474" y="1963">5,000</text><text x="1474" y="2003">3,000</text><text x="1474" y="2043">1,000</text></g>
<g font-size="12" font-style="italic" text-anchor="end"><text transform="translate(1506 2060) rotate(-45)">M-MC³</text><text transform="translate(1543 2060) rotate(-45)">G-MC³</text><text transform="translate(1579 2060) rotate(-45)">DiBS</text><text transform="translate(1616 2060) rotate(-45)">JSP-GFN</text></g>
<text x="1555" y="2118" font-size="15" text-anchor="middle">(b) Non-linear Gaussian</text>

<rect x="1712" y="1849" width="201" height="201" fill="#fff" stroke="#555" stroke-width="1.2"/>
<g stroke="#e4e4e4"><line x1="1712" y1="1875" x2="1913" y2="1875"/><line x1="1712" y1="1915" x2="1913" y2="1915"/><line x1="1712" y1="1955" x2="1913" y2="1955"/><line x1="1712" y1="1995" x2="1913" y2="1995"/><line x1="1712" y1="2035" x2="1913" y2="2035"/><line x1="1773" y1="1849" x2="1773" y2="2050"/><line x1="1850" y1="1849" x2="1850" y2="2050"/></g>
<ellipse cx="1830" cy="1930" rx="95" ry="14" fill="url(#scat)" opacity=".8" transform="rotate(-55 1830 1930)"/>
<ellipse cx="1860" cy="1890" rx="45" ry="16" fill="#3b3a80" opacity=".7" transform="rotate(-55 1860 1890)"/>
<line x1="1722" y1="2050" x2="1913" y2="1855" stroke="#d01020" stroke-width="1.5"/>
<text x="1835" y="2040" font-size="17">Δ = 0.9864</text>
<g font-size="12" text-anchor="end"><text x="1708" y="1879">−400</text><text x="1708" y="1919">−500</text><text x="1708" y="1959">−600</text><text x="1708" y="1999">−700</text><text x="1708" y="2039">−800</text></g>
<g font-size="12" text-anchor="middle"><text x="1773" y="2064">−2,600</text><text x="1850" y="2064">−2,400</text></g>
<text x="1812" y="2085" font-size="15" text-anchor="middle" font-style="italic">log P(𝒟, G, θ)</text>
<text x="1662" y="1950" font-size="15" text-anchor="middle" font-style="italic" transform="rotate(-90 1662 1950)">log Pφ⊤(G, θ)</text>
<rect x="1927" y="1849" width="23" height="201" fill="url(#vir)"/>
<g font-size="11"><text x="1954" y="1878">60</text><text x="1954" y="1926">50</text><text x="1954" y="1974">40</text><text x="1954" y="2022">30</text></g>
<text x="1812" y="2118" font-size="15" text-anchor="middle">(c) Non-linear Gaussian</text>
<text x="1240" y="2200" font-size="26" font-style="italic" textLength="590" lengthAdjust="spacingAndGlyphs">log Pφ⊤(G, θ) ≈ log P(G, θ | 𝒟) = log R(G, θ) − log P(𝒟)</text>

<!-- Bio plots -->
<rect x="1141" y="2527" width="168" height="167" fill="#fff" stroke="#555" stroke-width="1.2"/>
<g stroke="#e4e4e4"><line x1="1141" y1="2555" x2="1309" y2="2555"/><line x1="1141" y1="2585" x2="1309" y2="2585"/><line x1="1141" y1="2616" x2="1309" y2="2616"/><line x1="1141" y1="2646" x2="1309" y2="2646"/><line x1="1141" y1="2677" x2="1309" y2="2677"/><line x1="1182" y1="2527" x2="1182" y2="2694"/><line x1="1249" y1="2527" x2="1249" y2="2694"/></g>
<ellipse cx="1215" cy="2620" rx="95" ry="6" fill="url(#scat)" transform="rotate(-45 1215 2620)"/>
<line x1="1141" y1="2694" x2="1309" y2="2530" stroke="#d01020" stroke-width="1.3"/>
<text x="1250" y="2684" font-size="15">Δ = 1.0272</text>
<g font-size="11" text-anchor="end"><text x="1137" y="2559">−1,250</text><text x="1137" y="2589">−1,500</text><text x="1137" y="2620">−1,750</text><text x="1137" y="2650">−2,000</text><text x="1137" y="2681">−2,250</text></g>
<g font-size="11" text-anchor="middle"><text x="1141" y="2707">−3,000</text><text x="1209" y="2707">−2,500</text><text x="1276" y="2707">−2,000</text></g>
<text x="1225" y="2725" font-size="13" text-anchor="middle" font-style="italic">log P(𝒟, G, θ)</text>
<text x="1090" y="2610" font-size="13" text-anchor="middle" font-style="italic" transform="rotate(-90 1090 2610)">log Pφ⊤(G, θ)</text>
<rect x="1322" y="2527" width="18" height="167" fill="url(#vir)"/>
<g font-size="10"><text x="1343" y="2540">20</text><text x="1343" y="2585">15</text><text x="1343" y="2630">10</text><text x="1343" y="2677">5</text></g>
<rect x="1403" y="2527" width="167" height="167" fill="#fff" stroke="#555" stroke-width="1.2"/>
<g stroke="#e4e4e4"><line x1="1403" y1="2545" x2="1570" y2="2545"/><line x1="1403" y1="2574" x2="1570" y2="2574"/><line x1="1403" y1="2603" x2="1570" y2="2603"/><line x1="1403" y1="2632" x2="1570" y2="2632"/><line x1="1403" y1="2662" x2="1570" y2="2662"/></g>
<ellipse cx="1495" cy="2612" rx="55" ry="18" fill="#21918c" opacity=".5" transform="rotate(-55 1495 2612)"/>
<ellipse cx="1530" cy="2575" rx="40" ry="20" fill="#3b528b" opacity=".8" transform="rotate(-60 1530 2575)"/>
<line x1="1403" y1="2694" x2="1565" y2="2527" stroke="#d01020" stroke-width="1.3"/>
<text x="1500" y="2684" font-size="15">Δ = 0.7817</text>
<g font-size="11" text-anchor="end"><text x="1399" y="2549">−2,000</text><text x="1399" y="2578">−2,100</text><text x="1399" y="2607">−2,200</text><text x="1399" y="2636">−2,300</text><text x="1399" y="2666">−2,400</text></g>
<g font-size="11" text-anchor="middle"><text x="1415" y="2707">−3.26</text><text x="1455" y="2707">−3.24</text><text x="1495" y="2707">−3.22</text><text x="1535" y="2707">−3.2</text></g>
<text x="1485" y="2725" font-size="13" text-anchor="middle" font-style="italic">log P(𝒟, G, θ)  ·10⁴</text>
<rect x="1583" y="2527" width="18" height="167" fill="url(#vir)"/>
<g font-size="10"><text x="1604" y="2532">18</text><text x="1604" y="2568">16</text><text x="1604" y="2604">14</text><text x="1604" y="2640">12</text><text x="1604" y="2678">10</text></g>
<g font-size="12" text-anchor="middle"><text x="1230" y="2752">(a) Flow cytometry data</text><text x="1230" y="2768">(subsample, N = 100)</text><text x="1486" y="2752">(b) Flow cytometry data</text><text x="1805" y="2752">(c) Negative log-likelihood</text></g>
<g stroke="#333"><line x1="1641" y1="2561" x2="1968" y2="2561" stroke-width="1.6"/><line x1="1641" y1="2599" x2="1968" y2="2599"/><line x1="1641" y1="2638" x2="1968" y2="2638"/><line x1="1641" y1="2661" x2="1968" y2="2661" stroke-width="1.6"/></g>
<g font-size="12"><text x="1788" y="2575" text-anchor="middle">Flow cytometry</text><text x="1788" y="2590" text-anchor="middle" font-style="italic">d = 11, N = 4,200</text><text x="1911" y="2575" text-anchor="middle">Gene expression</text><text x="1911" y="2590" text-anchor="middle" font-style="italic">d = 61, N = 2,628</text>
<text x="1650" y="2614">MH-MC³</text><text x="1650" y="2630">Gibbs-MC³</text><text x="1650" y="2654">JSP-GFN</text>
<g text-anchor="middle"><text x="1788" y="2614" font-weight="bold">−2.578 × 10⁴</text><text x="1788" y="2630">−3.490 × 10⁵</text><text x="1788" y="2654">−2.679 × 10⁴</text><text x="1911" y="2614">−1.073 × 10⁶</text><text x="1911" y="2630">−4.882 × 10⁶</text><text x="1911" y="2654" font-weight="bold">−2.651 × 10⁵</text></g></g>
</svg>
</body></html>
